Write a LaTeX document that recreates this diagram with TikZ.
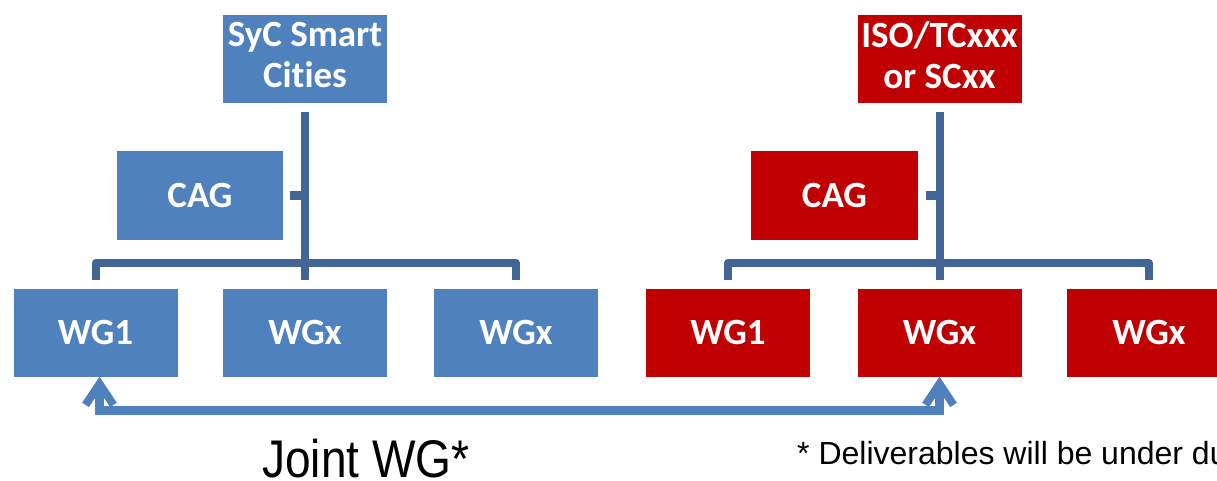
\documentclass[tikz,border=0pt]{standalone}
\usepackage{fontspec}
\setmainfont[Ligatures={NoCommon,NoContextual}]{Carlito}
\newfontfamily\arialf{Liberation Sans}
\usetikzlibrary{arrows.meta,calc}
\definecolor{boxblue}{RGB}{79,129,189}
\definecolor{boxred}{RGB}{192,0,0}
\definecolor{linkblue}{RGB}{65,102,150}
\definecolor{arrowblue}{RGB}{79,129,189}
\newcommand{\upline}[1]{\raisebox{4pt}[\height][\depth]{#1}}
\begin{document}
\begin{tikzpicture}[x=1pt,y=-1pt,
  orgbox/.style={rectangle, inner sep=0pt, minimum width=164pt, minimum height=88pt,
    text=white, font=\fontsize{37}{41}\selectfont\bfseries, align=center},
  bluebox/.style={orgbox, fill=boxblue},
  redbox/.style={orgbox, fill=boxred},
  link/.style={draw=linkblue, line width=8pt, line join=round},
  joint/.style={draw=arrowblue, line width=9pt,
    {Straight Barb[length=21pt,width=28pt,line width=8pt]}-{Straight Barb[length=21pt,width=28pt,line width=8pt]}}
]
\useasboundingbox (0,0) rectangle (1217,481);

% blue side
\node[bluebox] (syc) at (305,59) {\upline{SyC Smart}\\\upline{Cities}};
\node[bluebox, minimum width=166pt] (cagb) at (200,195.5) {CAG};
\node[bluebox] (wgb1) at (95.5,332.5) {WG1};
\node[bluebox] (wgb2) at (305,332.5) {WGx};
\node[bluebox] (wgb3) at (516,332.5) {WGx};

% red side
\node[redbox] (iso) at (939.5,59) {\upline{ISO/TCxxx}\\\upline{or SCxx}};
\node[redbox, minimum width=167pt] (cagr) at (834.5,195.5) {CAG};
\node[redbox] (wgr1) at (728,332.5) {WG1};
\node[redbox] (wgr2) at (939.5,332.5) {WGx};
\node[redbox] (wgr3) at (1149,332.5) {WGx};

% blue tree connectors
\draw[link] ($(syc.south)+(0,9)$) -- ($(wgb2.north)+(0,-8)$);
\draw[link] ($(cagb.east)+(7,0)$) -- (cagb.east -| syc.south);
\draw[link] ($(wgb1.north)+(0,-8)$) -- ++(0,-17.5) -| ($(wgb3.north)+(0,-8)$);

% red tree connectors
\draw[link] ($(iso.south)+(0,9)$) -- ($(wgr2.north)+(0,-8)$);
\draw[link] ($(cagr.east)+(8,0)$) -- (cagr.east -| iso.south);
\draw[link] ($(wgr1.north)+(0,-8)$) -- ++(0,-17.5) -| ($(wgr3.north)+(0,-8)$);

% joint WG arrow
\draw[joint] ([xshift=4pt]wgb1.south) -- ++(0,34) -| (wgr2.south);

% labels
\node[anchor=base west, inner sep=0pt, font=\arialf\fontsize{53}{53}\selectfont] (jointlabel)
  at (262,477) {\scalebox{0.87}[1]{Joint WG*}};
\node[anchor=base west, inner sep=0pt, font=\arialf\fontsize{32}{32}\selectfont] (note)
  at (797,464) {* Deliverables will be under du};
\end{tikzpicture}
\end{document}
